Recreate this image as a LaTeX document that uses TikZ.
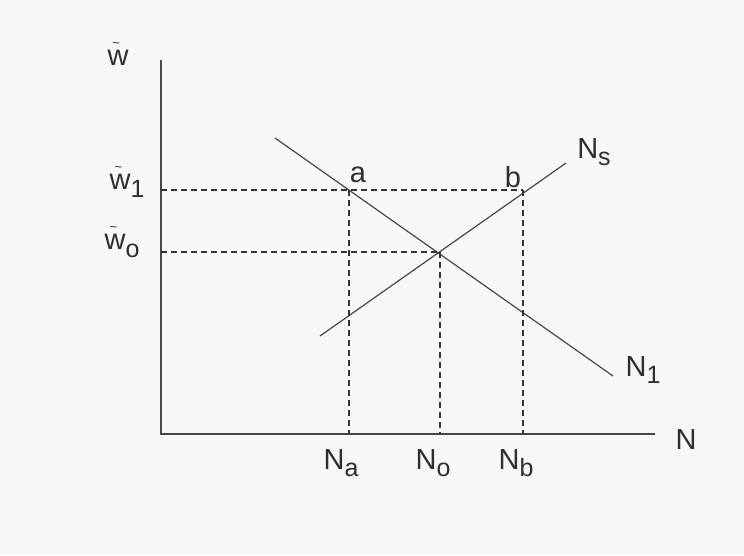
\documentclass[tikz,border=0pt]{standalone}
\usepackage{fontspec}
\setmainfont{Liberation Sans}
\newcommand{\lowsub}[1]{\raisebox{-0.5ex}{\fontsize{25}{25}\selectfont #1}}
\newcommand{\tw}{\makebox[0pt][l]{\hspace{0.17em}\raisebox{0.62em}{\fontsize{13}{13}\selectfont\textasciitilde}}w}
\begin{document}
\begin{tikzpicture}[x=1pt,y=-1pt,
  axis/.style={line width=1.1pt,color=black!72},
  curve/.style={line width=1.2pt,color=black!72},
  guide/.style={line width=1.4pt,color=black!80,dash pattern=on 6pt off 4pt},
  lbl/.style={font=\fontsize{29}{29}\selectfont,text=black!82,inner sep=0pt}]
\fill[black!3] (0,0) rectangle (744,555);
\useasboundingbox (0,0) rectangle (744,555);
% axes
\coordinate (O) at (161,434);
\coordinate (ytop) at (161,60);
\coordinate (xend) at (655,434);
\draw[axis] (ytop) -- (O) -- (xend);
% curves
\coordinate (d1) at (275,138);
\coordinate (d2) at (613,376);
\coordinate (s1) at (320,336);
\coordinate (s2) at (566,163);
\draw[curve] (d1) -- (d2);
\draw[curve] (s1) -- (s2);
% key points
\coordinate (a) at (349,190);
\coordinate (b) at (523,190);
\coordinate (e) at (440,252);
\coordinate (ya) at (161,190);
\coordinate (ye) at (161,252);
\coordinate (xa) at (349,434);
\coordinate (xe) at (440,434);
\coordinate (xb) at (523,434);
\draw[guide] (ya) -- (b);
\draw[guide] (ye) -- (e);
\draw[guide] (a) -- (xa);
\draw[guide] (e) -- (xe);
\draw[guide] (b) -- (xb);
% labels
\node[lbl] (wlab) at (118,54) {\tw};
\node[lbl] (w1lab) at (127,182) {\tw\lowsub{1}};
\node[lbl] (w0lab) at (122,242) {\tw\lowsub{o}};
\node[lbl] (Nlab) at (686,440) {N};
\node[lbl] (Nalab) at (341,463) {N\lowsub{a}};
\node[lbl] (Nolab) at (433,463) {N\lowsub{o}};
\node[lbl] (Nblab) at (516,463) {N\lowsub{b}};
\node[lbl] (alab) at (358,175) {a};
\node[lbl] (blab) at (513,177) {b};
\node[lbl] (Nslab) at (594,152) {N\lowsub{s}};
\node[lbl] (N1lab) at (643,370) {N\lowsub{1}};
\end{tikzpicture}
\end{document}
